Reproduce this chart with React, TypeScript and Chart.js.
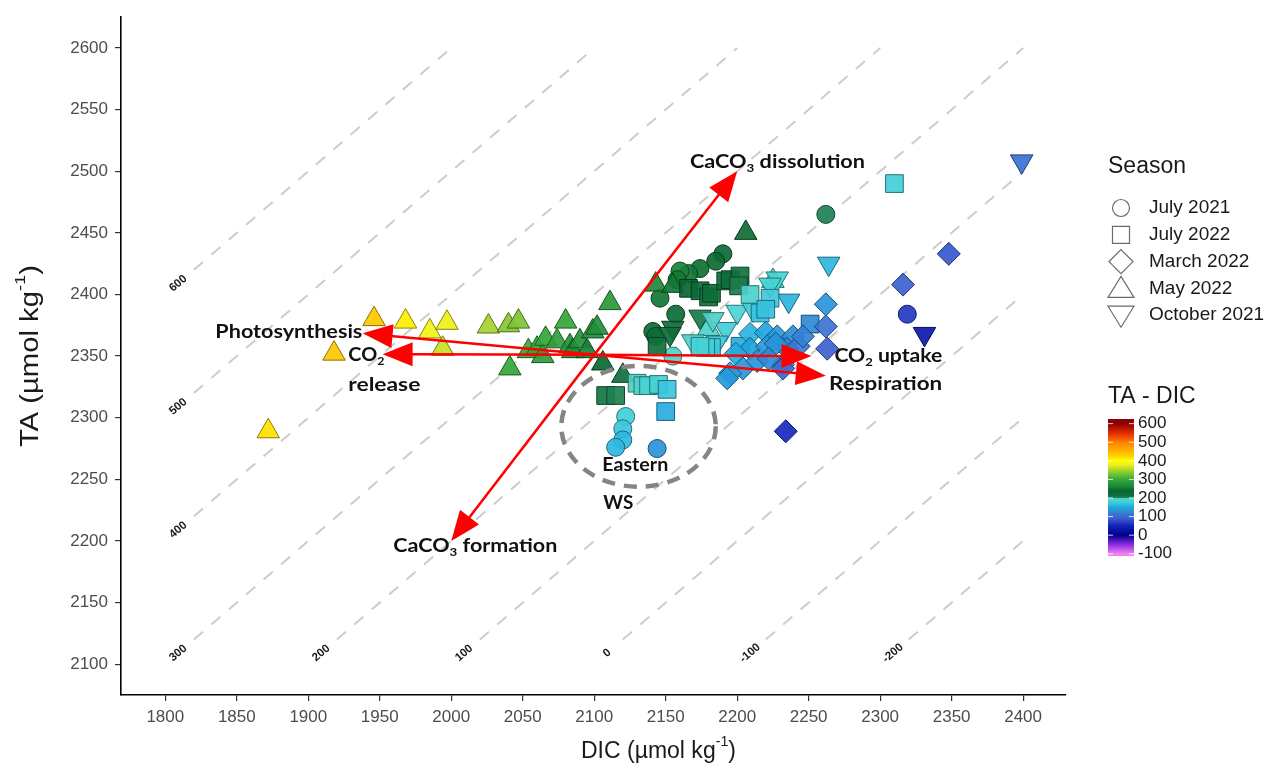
import React, { useEffect, useRef } from 'react';
import { Chart, registerables } from 'chart.js';

Chart.register(...registerables);

const W = 1283;
const H = 770;

// ---------------- DATA ----------------
const SEASONS = ['July 2021', 'July 2022', 'March 2022', 'May 2022', 'October 2021'];

// [DIC, TA] in µmol kg-1
const JULY_2021: number[][] = [
  [2262, 2465], [2319, 2384], [2190, 2433], [2185, 2427], [2174, 2421], [2166, 2417],
  [2160, 2419], [2158, 2412], [2146, 2397], [2157, 2384], [2141, 2370], [2143, 2366],
  [2155, 2350], [2122, 2301], [2120, 2291], [2120, 2282], [2115, 2276], [2144, 2275],
];

const JULY_2022: number[][] = [
  [2310, 2490], [2251, 2376], [2108, 2318], [2115, 2318], [2130, 2328], [2134, 2326],
  [2138, 2326], [2145, 2327], [2151, 2323], [2150, 2305], [2166, 2405], [2174, 2403],
  [2180, 2398], [2182, 2401], [2192, 2411], [2195, 2412], [2202, 2415], [2201, 2407],
  [2144, 2358], [2209, 2400], [2223, 2397], [2216, 2385], [2220, 2388], [2182, 2357],
  [2178, 2357], [2174, 2358], [2202, 2358],
];

const MARCH_2022: number[][] = [
  [2348, 2433], [2316, 2408], [2234, 2289], [2262, 2392], [2262, 2374], [2263, 2356],
  [2232, 2343], [2209, 2368], [2220, 2369], [2228, 2366], [2239, 2366], [2235, 2356],
  [2209, 2356], [2199, 2352], [2204, 2340], [2195, 2336], [2193, 2332], [2232, 2340],
  [2221, 2358], [2227, 2360], [2214, 2346], [2222, 2348], [2243, 2358], [2246, 2366],
];

const MAY_2022: number[][] = [
  [1872, 2289], [1918, 2352], [1946, 2380], [1968, 2378], [1985, 2370], [1997, 2377],
  [1994, 2356], [2026, 2374], [2040, 2375], [2047, 2378], [2041, 2340], [2054, 2354],
  [2060, 2356], [2064, 2350], [2066, 2364], [2074, 2362], [2080, 2378], [2083, 2358],
  [2085, 2354], [2090, 2362], [2095, 2354], [2099, 2370], [2102, 2373], [2106, 2344],
  [2111, 2393], [2143, 2408], [2155, 2407], [2206, 2450], [2120, 2334], [2225, 2411],
  [2180, 2372],
];

const OCTOBER_2021: number[][] = [
  [2399, 2508], [2264, 2425], [2331, 2368], [2236, 2395], [2228, 2413], [2223, 2408],
  [2200, 2386], [2174, 2382], [2155, 2373], [2192, 2372], [2169, 2362], [2186, 2361],
  [2211, 2388], [2153, 2368], [2183, 2380],
];

const X_TICKS = [1800, 1850, 1900, 1950, 2000, 2050, 2100, 2150, 2200, 2250, 2300, 2350, 2400];
const Y_TICKS = [2100, 2150, 2200, 2250, 2300, 2350, 2400, 2450, 2500, 2550, 2600];
const DIAG_LEVELS = [600, 500, 400, 300, 200, 100, 0, -100, -200];
const COLORBAR_BREAKS = [600, 500, 400, 300, 200, 100, 0, -100];

// process arrows: origin and tips in [DIC, TA]
const ARROW_ORIGIN = [2100, 2351];
const ARROW_TIPS: number[][] = [
  [2200, 2500], // CaCO3 dissolution
  [2000, 2200], // CaCO3 formation
  [1938, 2368.5], // photosynthesis
  [2262, 2334], // respiration
  [1952, 2351.5], // CO2 release
  [2252, 2350], // CO2 uptake
];

// ---------------- STYLE ----------------
const X_MIN = 1769;
const X_MAX = 2430;
const Y_MIN = 2075;
const Y_MAX = 2625;

const COLOR_STOPS: [number, string][] = [
  [-100, '#ee82ee'],
  [-50, '#8a2be2'],
  [0, '#00008b'],
  [50, '#1222b8'],
  [90, '#3d5fd0'],
  [112, '#3a74d2'],
  [130, '#2a92d8'],
  [150, '#22a6de'],
  [170, '#38c4e0'],
  [185, '#48d4d4'],
  [199, '#50d0c4'],
  [201, '#248456'],
  [215, '#0e6e3a'],
  [240, '#0b6632'],
  [265, '#1e8a3a'],
  [300, '#36a83a'],
  [340, '#90cc30'],
  [375, '#e8ec20'],
  [400, '#ffff00'],
  [430, '#ffcc00'],
  [500, '#ff8000'],
  [545, '#e83000'],
  [600, '#8b0000'],
];

function hex(h: string): number[] {
  return [parseInt(h.slice(1, 3), 16), parseInt(h.slice(3, 5), 16), parseInt(h.slice(5, 7), 16)];
}
function colorFor(v: number): number[] {
  const s = COLOR_STOPS;
  if (v <= s[0][0]) return hex(s[0][1]);
  for (let i = 1; i < s.length; i++) {
    if (v <= s[i][0]) {
      const t = (v - s[i - 1][0]) / (s[i][0] - s[i - 1][0]);
      const a = hex(s[i - 1][1]);
      const b = hex(s[i][1]);
      return a.map((c, k) => Math.round(c + (b[k] - c) * t));
    }
  }
  return hex(s[s.length - 1][1]);
}
const rgb = (c: number[], a = 1) => `rgba(${c[0]},${c[1]},${c[2]},${a})`;
const darker = (c: number[], f: number) => c.map((x) => Math.round(x * f));

const SEASON_STYLE: Record<string, { pointStyle: string; radius: number; rotation: number; order: number }> = {
  'July 2021': { pointStyle: 'circle', radius: 9, rotation: 0, order: 5 },
  'July 2022': { pointStyle: 'rect', radius: 12.5, rotation: 0, order: 2 },
  'March 2022': { pointStyle: 'rectRot', radius: 11.5, rotation: 0, order: 1 },
  'May 2022': { pointStyle: 'triangle', radius: 13, rotation: 0, order: 4 },
  'October 2021': { pointStyle: 'triangle', radius: 13, rotation: 180, order: 3 },
};
const SEASON_DATA: Record<string, number[][]> = {
  'July 2021': JULY_2021,
  'July 2022': JULY_2022,
  'March 2022': MARCH_2022,
  'May 2022': MAY_2022,
  'October 2021': OCTOBER_2021,
};

type Seg = { t: string; sub?: boolean; sup?: boolean };
type RichOpts = {
  size: number;
  family: string;
  weight?: string;
  color: string;
  align?: 'left' | 'center' | 'right';
  width?: number;
  rotate?: number;
};

function drawRich(ctx: CanvasRenderingContext2D, segs: Seg[], x: number, y: number, o: RichOpts) {
  ctx.save();
  ctx.translate(x, y);
  if (o.rotate) ctx.rotate(o.rotate);
  const f = (s: number) => `${o.weight || 'normal'} ${s}px ${o.family}`;
  const sizes = segs.map((s) => (s.sub || s.sup ? o.size * 0.62 : o.size));
  let w = 0;
  const widths = segs.map((s, i) => {
    ctx.font = f(sizes[i]);
    const m = ctx.measureText(s.t).width;
    w += m;
    return m;
  });
  const sx = o.width ? o.width / w : 1;
  ctx.scale(sx, 1);
  let cx = o.align === 'center' ? -w / 2 : o.align === 'right' ? -w : 0;
  ctx.textBaseline = 'middle';
  ctx.textAlign = 'left';
  ctx.fillStyle = o.color;
  segs.forEach((s, i) => {
    ctx.font = f(sizes[i]);
    const dy = s.sub ? o.size * 0.32 : s.sup ? -o.size * 0.42 : 0;
    ctx.fillText(s.t, cx, dy);
    cx += widths[i];
  });
  ctx.restore();
}

const ANNOTATIONS: { segs: Seg[]; at: number[]; width: number }[] = [
  { segs: [{ t: 'CaCO' }, { t: '3', sub: true }, { t: ' dissolution' }], at: [2167, 2507.5], width: 175 },
  { segs: [{ t: 'CaCO' }, { t: '3', sub: true }, { t: ' formation' }], at: [1959.5, 2196], width: 164 },
  { segs: [{ t: 'Photosynthesis' }], at: [1835, 2369.5], width: 147 },
  { segs: [{ t: 'CO' }, { t: '2', sub: true }], at: [1928, 2351], width: 36 },
  { segs: [{ t: 'release' }], at: [1928, 2326.5], width: 72 },
  { segs: [{ t: 'CO' }, { t: '2', sub: true }, { t: ' uptake' }], at: [2268, 2350], width: 108 },
  { segs: [{ t: 'Respiration' }], at: [2264.3, 2327.3], width: 113 },
  { segs: [{ t: 'Eastern' }], at: [2105.6, 2262], width: 66 },
  { segs: [{ t: 'WS' }], at: [2106.3, 2230.5], width: 30 },
];

const ELLIPSE = { dic: 2131, ta: 2293, rDic: 54, rTa: 49 };

function drawArrow(ctx: CanvasRenderingContext2D, x0: number, y0: number, x1: number, y1: number) {
  const a = Math.atan2(y1 - y0, x1 - x0);
  const L = 30;
  const Wd = 12;
  const bx = x1 - L * Math.cos(a);
  const by = y1 - L * Math.sin(a);
  ctx.beginPath();
  ctx.moveTo(x0, y0);
  ctx.lineTo(bx + 2 * Math.cos(a), by + 2 * Math.sin(a));
  ctx.stroke();
  ctx.beginPath();
  ctx.moveTo(x1, y1);
  ctx.lineTo(bx + Wd * Math.sin(a), by - Wd * Math.cos(a));
  ctx.lineTo(bx - Wd * Math.sin(a), by + Wd * Math.cos(a));
  ctx.closePath();
  ctx.fill();
}

function legendShape(ctx: CanvasRenderingContext2D, kind: string, x: number, y: number) {
  ctx.beginPath();
  if (kind === 'circle') ctx.arc(x, y, 8.5, 0, Math.PI * 2);
  else if (kind === 'rect') ctx.rect(x - 8.5, y - 8.5, 17, 17);
  else if (kind === 'rectRot') {
    ctx.moveTo(x, y - 12);
    ctx.lineTo(x + 12, y);
    ctx.lineTo(x, y + 12);
    ctx.lineTo(x - 12, y);
    ctx.closePath();
  } else if (kind === 'up') {
    ctx.moveTo(x, y - 12);
    ctx.lineTo(x + 13, y + 9);
    ctx.lineTo(x - 13, y + 9);
    ctx.closePath();
  } else {
    ctx.moveTo(x, y + 12);
    ctx.lineTo(x + 13, y - 9);
    ctx.lineTo(x - 13, y - 9);
    ctx.closePath();
  }
  ctx.stroke();
}

const overlayPlugin = {
  id: 'overlay',
  afterDatasetsDraw(chart: any) {
    const ctx: CanvasRenderingContext2D = chart.ctx;
    const xs = chart.scales.x;
    const ys = chart.scales.y;
    const px = (v: number) => xs.getPixelForValue(v);
    const py = (v: number) => ys.getPixelForValue(v);
    const ang = Math.atan2(py(0) - py(1), px(1) - px(0));

    // labels of TA-DIC isolines
    DIAG_LEVELS.forEach((c) => {
      const s = Math.max(X_TICKS[0], Y_TICKS[0] - c);
      drawRich(ctx, [{ t: String(c) }], px(s + 9), py(s + c + 9), {
        size: 11.5,
        family: "'Liberation Sans', Arial, sans-serif",
        weight: 'bold',
        color: '#1a1a1a',
        align: 'center',
        rotate: -ang,
      });
    });

    // ellipse
    ctx.save();
    ctx.strokeStyle = '#858585';
    ctx.lineWidth = 4.5;
    ctx.setLineDash([13, 9]);
    ctx.beginPath();
    ctx.ellipse(
      px(ELLIPSE.dic),
      py(ELLIPSE.ta),
      Math.abs(px(ELLIPSE.dic + ELLIPSE.rDic) - px(ELLIPSE.dic)),
      Math.abs(py(ELLIPSE.ta + ELLIPSE.rTa) - py(ELLIPSE.ta)),
      0,
      0,
      Math.PI * 2
    );
    ctx.stroke();
    ctx.restore();

    // arrows
    ctx.save();
    ctx.strokeStyle = '#ff0000';
    ctx.fillStyle = '#ff0000';
    ctx.lineWidth = 2.5;
    ARROW_TIPS.forEach(([dx, dy]) => {
      drawArrow(ctx, px(ARROW_ORIGIN[0]), py(ARROW_ORIGIN[1]), px(dx), py(dy));
    });
    ctx.restore();

    // annotation text
    ANNOTATIONS.forEach((a) => {
      drawRich(ctx, a.segs, px(a.at[0]), py(a.at[1]), {
        size: 19,
        family: "Lato, 'Open Sans', sans-serif",
        weight: 'bold',
        color: '#111',
        align: 'left',
        width: a.width,
      });
    });
  },
  afterDraw(chart: any) {
    const ctx: CanvasRenderingContext2D = chart.ctx;
    const area = chart.chartArea;
    const fam = "'Liberation Sans', Arial, sans-serif";

    // axis titles
    drawRich(ctx, [{ t: 'DIC (µmol kg' }, { t: '-1', sup: true }, { t: ')' }], (area.left + area.right) / 2 + 65, 752, {
      size: 23,
      family: fam,
      color: '#1a1a1a',
      align: 'center',
      width: 155,
    });
    drawRich(ctx, [{ t: 'TA (µmol kg' }, { t: '-1', sup: true }, { t: ')' }], 31, (area.top + area.bottom) / 2 + 0, {
      size: 25,
      family: fam,
      color: '#1a1a1a',
      align: 'center',
      width: 182,
      rotate: -Math.PI / 2,
    });

    // season legend
    drawRich(ctx, [{ t: 'Season' }], 1108, 167, { size: 23, family: fam, color: '#1a1a1a' });
    const kinds = ['circle', 'rect', 'rectRot', 'up', 'down'];
    ctx.save();
    ctx.strokeStyle = '#6b6b6b';
    ctx.lineWidth = 1.2;
    SEASONS.forEach((s, i) => {
      const yy = 208 + i * 26.8;
      legendShape(ctx, kinds[i], 1121, yy);
      drawRich(ctx, [{ t: s }], 1149, yy, { size: 19, family: fam, color: '#1a1a1a' });
    });
    ctx.restore();

    // colour bar
    drawRich(ctx, [{ t: 'TA - DIC' }], 1108, 397, { size: 23, family: fam, color: '#1a1a1a' });
    const top = 419;
    const bot = 556;
    const vmax = 625;
    const vmin = -112;
    for (let yy = top; yy < bot; yy++) {
      const v = vmax - ((yy + 0.5 - top) / (bot - top)) * (vmax - vmin);
      ctx.fillStyle = rgb(colorFor(v));
      ctx.fillRect(1108, yy, 26, 1);
    }
    COLORBAR_BREAKS.forEach((b) => {
      const yy = top + ((vmax - b) / (vmax - vmin)) * (bot - top);
      ctx.strokeStyle = 'rgba(255,255,255,0.8)';
      ctx.lineWidth = 1;
      ctx.beginPath();
      ctx.moveTo(1108, yy);
      ctx.lineTo(1113, yy);
      ctx.moveTo(1129, yy);
      ctx.lineTo(1134, yy);
      ctx.stroke();
      drawRich(ctx, [{ t: String(b) }], 1138, yy, { size: 17, family: fam, color: '#1a1a1a' });
    });
  },
};

export default function App() {
  const ref = useRef<HTMLCanvasElement | null>(null);

  useEffect(() => {
    if (!ref.current) return;

    const diagSets = DIAG_LEVELS.map((c) => {
      const s = Math.max(X_TICKS[0], Y_TICKS[0] - c);
      const e = Math.min(X_TICKS[X_TICKS.length - 1], Y_TICKS[Y_TICKS.length - 1] - c);
      return {
        type: 'line' as const,
        data: [
          { x: s + 20, y: s + 20 + c },
          { x: e, y: e + c },
        ],
        borderColor: '#cccccc',
        borderWidth: 2,
        borderDash: [12, 11],
        pointRadius: 0,
        showLine: true,
        fill: false,
        order: 20,
      };
    });

    const seasonSets = SEASONS.map((s) => {
      const st = SEASON_STYLE[s];
      const pts = SEASON_DATA[s];
      const fills = pts.map((p) => colorFor(p[1] - p[0]));
      return {
        type: 'scatter' as const,
        label: s,
        data: pts.map(([x, y]) => ({ x, y })),
        pointStyle: st.pointStyle,
        pointRadius: st.radius,
        pointRotation: st.rotation,
        pointBackgroundColor: fills.map((c) => rgb(c, 0.92)),
        pointBorderColor: fills.map((c) => rgb(darker(c, 0.55))),
        pointBorderWidth: 1,
        order: st.order,
      };
    });

    const tickFont = { family: "'Liberation Sans', Arial, sans-serif", size: 17 };
    const plain = (v: any) => String(v);

    const chart = new Chart(ref.current, {
      type: 'scatter',
      data: { datasets: [...seasonSets, ...diagSets] as any },
      options: {
        animation: false,
        responsive: false,
        devicePixelRatio: 1,
        events: [],
        layout: { padding: { left: 0, top: 15, right: W - 1066, bottom: 0 } },
        plugins: { legend: { display: false }, tooltip: { enabled: false }, title: { display: false } },
        scales: {
          x: {
            type: 'linear',
            position: 'bottom',
            min: X_MIN,
            max: X_MAX,
            afterBuildTicks: (sc: any) => {
              sc.ticks = X_TICKS.map((v) => ({ value: v }));
            },
            afterFit: (sc: any) => {
              sc.height = H - 695;
            },
            ticks: { color: '#4d4d4d', font: tickFont, padding: 6, autoSkip: false, maxRotation: 0, callback: plain },
            grid: { display: true, drawOnChartArea: false, drawTicks: true, tickLength: 6, color: '#333', lineWidth: 1.2 },
            border: { display: true, color: '#000', width: 1.6 },
            title: { display: false },
          },
          y: {
            type: 'linear',
            min: Y_MIN,
            max: Y_MAX,
            afterBuildTicks: (sc: any) => {
              sc.ticks = Y_TICKS.map((v) => ({ value: v }));
            },
            afterFit: (sc: any) => {
              sc.width = 121;
            },
            ticks: { color: '#4d4d4d', font: tickFont, padding: 7, autoSkip: false, callback: plain },
            grid: { display: true, drawOnChartArea: false, drawTicks: true, tickLength: 6, color: '#333', lineWidth: 1.2 },
            border: { display: true, color: '#000', width: 1.6 },
            title: { display: false },
          },
        },
      } as any,
      plugins: [overlayPlugin],
    });

    return () => chart.destroy();
  }, []);

  return (
    <div style={{ position: 'fixed', left: 0, top: 0, width: W, height: H, background: '#fff' }}>
      <canvas ref={ref} width={W} height={H} style={{ display: 'block', width: W, height: H }} />
    </div>
  );
}
